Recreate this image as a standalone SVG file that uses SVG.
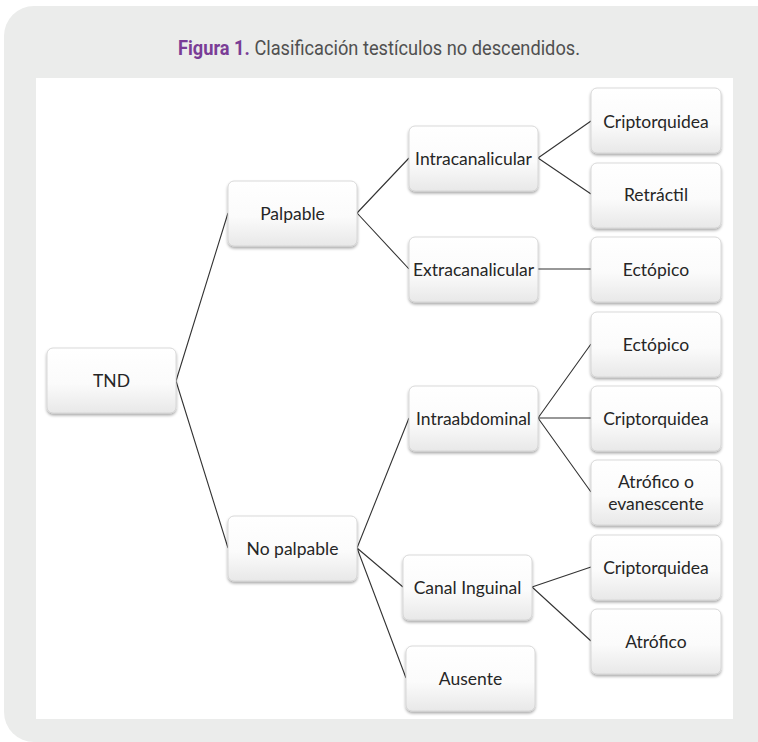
<svg xmlns="http://www.w3.org/2000/svg" width="758" height="742" viewBox="0 0 758 742">
<style>
.box{fill:url(#g);stroke:#d0d0d0;stroke-width:0.8;filter:url(#sh)}
.t{font-family:Lato,"Open Sans",sans-serif;font-size:17.5px;fill:#262626;text-anchor:middle}
.c{stroke:#333;stroke-width:1.1;fill:none}
</style>
<defs>
<linearGradient id="g" x1="0" y1="0" x2="0" y2="1">
<stop offset="0" stop-color="#ffffff"/>
<stop offset="0.55" stop-color="#fbfbfb"/>
<stop offset="1" stop-color="#e8e8e8"/>
</linearGradient>
<filter id="sh" x="-10%" y="-10%" width="120%" height="130%">
<feGaussianBlur in="SourceAlpha" stdDeviation="1.5"/>
<feOffset dx="0" dy="2" result="b"/>
<feComponentTransfer><feFuncA type="linear" slope="0.35"/></feComponentTransfer>
<feMerge><feMergeNode/><feMergeNode in="SourceGraphic"/></feMerge>
</filter>
</defs>
<rect x="4" y="6" width="790" height="736" rx="30" fill="#ebeceb"/>
<rect x="36" y="78" width="697" height="641" fill="#ffffff"/>
<text x="178" y="55" font-family="Roboto,'Liberation Sans',sans-serif" font-size="20" textLength="402" lengthAdjust="spacingAndGlyphs"><tspan fill="#7a3d96" font-weight="bold">Figura 1.</tspan><tspan fill="#505050"> Clasificación testículos no descendidos.</tspan></text>
<g id="connectors">
<path class="c" d="M176 381 L228 213 M176 381 L228 548"/>
<path class="c" d="M357 213 L409 158 M357 213 L409 269"/>
<path class="c" d="M538 158 L591 121 M538 158 L591 194 M538 269 L591 269"/>
<path class="c" d="M357 548 L409 418 M357 548 L403 587 M357 548 L406 678"/>
<path class="c" d="M538 418 L591 344 M538 418 L591 418 M538 418 L591 492"/>
<path class="c" d="M532 587 L591 567 M532 587 L591 641"/>
</g>
<g id="n-tnd"><rect class="box" x="47" y="348" width="129" height="65" rx="6"/><text class="t" x="111.5" y="387">TND</text></g>
<g id="n-palpable"><rect class="box" x="228" y="181" width="129" height="65" rx="6"/><text class="t" x="292.5" y="220">Palpable</text></g>
<g id="n-nopalpable"><rect class="box" x="228" y="516" width="129" height="65" rx="6"/><text class="t" x="292.5" y="555">No palpable</text></g>
<g id="n-intracan"><rect class="box" x="409" y="126" width="129" height="65" rx="6"/><text class="t" x="473.5" y="165">Intracanalicular</text></g>
<g id="n-extracan"><rect class="box" x="409" y="237" width="129" height="65" rx="6"/><text class="t" x="473.5" y="276">Extracanalicular</text></g>
<g id="n-cripto1"><rect class="box" x="591" y="88" width="130" height="65" rx="6"/><text class="t" x="656" y="128">Criptorquidea</text></g>
<g id="n-retractil"><rect class="box" x="591" y="163" width="130" height="65" rx="6"/><text class="t" x="656" y="201">Retráctil</text></g>
<g id="n-ectopico1"><rect class="box" x="591" y="237" width="130" height="65" rx="6"/><text class="t" x="656" y="276">Ectópico</text></g>
<g id="n-ectopico2"><rect class="box" x="591" y="312" width="130" height="65" rx="6"/><text class="t" x="656" y="351">Ectópico</text></g>
<g id="n-intraabd"><rect class="box" x="409" y="386" width="129" height="65" rx="6"/><text class="t" x="473.5" y="425">Intraabdominal</text></g>
<g id="n-cripto2"><rect class="box" x="591" y="386" width="130" height="65" rx="6"/><text class="t" x="656" y="425">Criptorquidea</text></g>
<g id="n-atrofevan"><rect class="box" x="591" y="460" width="130" height="65" rx="6"/><text class="t" x="656" y="488">Atrófico o</text><text class="t" x="656" y="510">evanescente</text></g>
<g id="n-cripto3"><rect class="box" x="591" y="535" width="130" height="65" rx="6"/><text class="t" x="656" y="574">Criptorquidea</text></g>
<g id="n-canal"><rect class="box" x="403" y="555" width="129" height="65" rx="6"/><text class="t" x="467.5" y="594">Canal Inguinal</text></g>
<g id="n-atrofico"><rect class="box" x="591" y="609" width="130" height="65" rx="6"/><text class="t" x="656" y="648">Atrófico</text></g>
<g id="n-ausente"><rect class="box" x="406" y="646" width="129" height="65" rx="6"/><text class="t" x="470.5" y="685">Ausente</text></g>
</svg>
